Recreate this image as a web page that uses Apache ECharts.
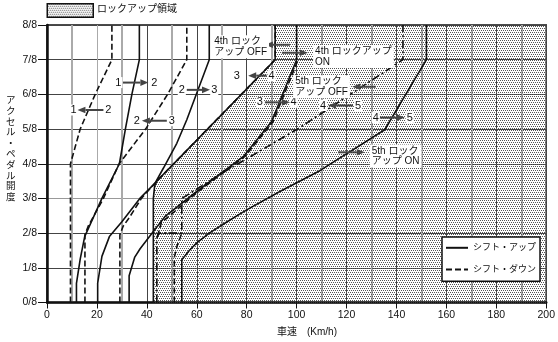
<!DOCTYPE html>
<html><head><meta charset="utf-8">
<script src="https://cdn.jsdelivr.net/npm/echarts@6/dist/echarts.min.js"></script>
<style>html,body{margin:0;padding:0;background:#fff}#c{width:558px;height:342px}</style>
</head><body><div id="c"></div>
<script>
// ---- data: points are [vehicle speed km/h, accelerator opening in eighths] ----
const yTickLabels = ['0/8','1/8','2/8','3/8','4/8','5/8','6/8','7/8','8/8'];
const xMin = 0, xMax = 200, xStep = 20;
const yMin = 0, yMax = 8;

const down21 = [[9.4,0],[9.4,4],[13.3,5],[19.3,6],[26,7],[26,8]];
const up12   = [[11.8,0],[11.8,0.55],[13.3,1.25],[15.1,1.9],[22,3],[29,4],[31.4,5],[34,6],[37,7],[37,8]];
const down32 = [[15.2,0],[15.2,1.95],[16.5,2.2],[22.6,3],[28.9,4],[39.5,5],[48.3,6],[56,7],[56,8]];
const up23   = [[20.3,0],[20.3,0.56],[22,1.33],[25,1.9],[30,2.33],[37.2,3],[43.3,3.44],[46.6,3.87],[52,4.59],[56,5.27],[65,7],[65,8]];
const down43 = [[29.2,0],[29.2,1.95],[30.5,2.2],[33,2.45],[37.8,3],[44,3.5],[91.4,7],[91.4,8]];
const up34   = [[32.9,0],[32.9,0.77],[35.1,1.3],[37.3,1.55],[42.6,2.05],[47.3,2.48],[60,3.2],[70.7,3.78],[78.7,4.21],[90,5.22],[92.7,5.7],[100,7],[100,8]];
const lockOff4 = [[42.6,0],[42.6,3.0],[43.1,3.35],[44,3.5],[91.4,7],[91.4,8]];
const lockOn4  = [[44.2,1.9],[45.8,2.3],[60.6,3.2],[79.3,4.21],[90.6,5.22],[93.3,5.7],[100.6,7]];
const lockOff5 = [[44,0],[44,1.85],[44.8,2],[54,2],[54,3],[69,3.68],[101,5.03],[142.6,7],[142.6,8]];
const down54   = [[51,0],[51,1.3],[52.2,1.65],[54,2]];
const lockOn5  = [[54,0],[54,1.23],[57,1.5],[60,1.72],[65,2],[72,2.32],[80,2.67],[93.3,3.2],[109.3,3.8],[135.3,4.98],[152,7],[152,8]];

// annotation texts and arrows (placed in chart coordinates)
const numLabels = [
  ['1',28.6,6.34],['2',43.0,6.34],
  ['1',10.6,5.55],['2',24.6,5.55],
  ['2',54,6.13],['3',67,6.13],
  ['2',36,5.24],['3',50,5.24],
  ['3',76,6.54],['4',90,6.54],
  ['3',85.3,5.77],['4',98.8,5.77],
  ['4',110.6,5.68],['5',124.6,5.68],
  ['4',131.7,5.33],['5',145.3,5.33]
];
const blockLabels = [
  ['4th ロック\nアップ OFF',66.2,7.37],
  ['4th ロックアップ\nON',106.6,7.09],
  ['5th ロック\nアップ OFF',98.6,6.22],
  ['5th ロック\nアップ ON',129.3,4.22]
];
const arrows = [
  [30.4,6.34,40.6,6.34],[22.6,5.55,12.2,5.55],
  [56,6.13,65.3,6.13],[48,5.24,38,5.24],
  [88,6.54,80.6,6.54],[87.3,5.77,97.3,5.77],
  [97.3,7.43,87.3,7.43],[94.1,7.2,104.5,7.2],
  [131.7,6.22,122.3,6.22],[122.6,5.68,112.6,5.68],
  [133.3,5.33,143.3,5.33],[116.6,4.33,127.3,4.33]
];

// ---- rendering ----
function dotCanvas(withBg){
  const c=document.createElement('canvas'); c.width=4; c.height=4;
  const g=c.getContext('2d');
  if(withBg){ g.fillStyle='#fff'; g.fillRect(0,0,4,4); }
  g.fillStyle='#555';
  [[0,0],[2,0],[1,2],[3,2]].forEach(p=>g.fillRect(p[0],p[1],1,1));
  return c;
}
const patt = {image: dotCanvas(false), repeat:'repeat'};
const pattBg = {image: dotCanvas(true), repeat:'repeat'};
const FONT = '"Liberation Sans","Noto Sans CJK JP",sans-serif';
const solid = 'solid', dashed=[6,3], dashDot=[8,3,2,3];

function lineSeries(name, data, type){
  return {type:'line', name, data, showSymbol:false, symbol:'none', silent:true, z:3, color:'#111',
    itemStyle:{color:'#111'},
    lineStyle:{color:'#111', width:1.6, type}, animation:false};
}
const xSplitColors = [];
for(let v=xMin; v<=xMax; v+=xStep) xSplitColors.push(v===20 ? '#aaa' : '#444');
const ySplitColors = yTickLabels.map((t,i)=> i===3 ? '#999' : '#444');

const chart = echarts.init(document.getElementById('c'), null, {renderer:'canvas'});
chart.setOption({
  animation:false,
  grid:{left:47, right:11.5, top:25, bottom:39.5, show:true, borderColor:'#111', borderWidth:1.5, backgroundColor:'transparent'},
  xAxis:{type:'value', min:xMin, max:xMax, interval:xStep,
    axisLine:{lineStyle:{color:'#111', width:2.5}},
    axisTick:{show:true, length:6, lineStyle:{color:'#111', width:1}},
    minorTick:{show:false, splitNumber:2},
    axisLabel:{color:'#111', fontSize:10.5, fontFamily:FONT, margin:7},
    splitLine:{show:true, lineStyle:{color:xSplitColors, width:1}},
    minorSplitLine:{show:true, lineStyle:{color:'#aaa', width:2}}
  },
  yAxis:{type:'value', min:yMin, max:yMax, interval:1,
    axisLine:{show:true, lineStyle:{color:'#111', width:2.5}},
    axisTick:{show:true, length:9, lineStyle:{color:'#111', width:1}},
    axisLabel:{color:'#111', fontSize:10.5, fontFamily:FONT, margin:10, formatter:v=>yTickLabels[v]},
    splitLine:{show:true, lineStyle:{color:ySplitColors, width:1.2}}
  },
  legend:{data:['シフト・アップ','シフト・ダウン'], orient:'vertical', left:442, top:237,
    backgroundColor:'#fff', borderColor:'#111', borderWidth:1.5, padding:[6,4,7,3],
    itemWidth:22, itemHeight:12, itemGap:12, selectedMode:false,
    itemStyle:{color:'rgba(0,0,0,0)', borderWidth:0, opacity:0},
    textStyle:{fontSize:9, color:'#111', fontFamily:FONT}},
  graphic:[
    {type:'rect', left:46.5, top:3, shape:{width:46, height:13.5}, style:{fill:pattBg, stroke:'#111', lineWidth:1.5}},
    {type:'text', left:97, top:4, style:{text:'ロックアップ領域', font:'10px '+FONT, fill:'#111'}},
    {type:'text', left:6, top:95, style:{text:'アクセル・ペダル開度'.split('').join('\n'), font:'9.5px '+FONT, fill:'#111', lineHeight:10.8, align:'center'}},
    {type:'text', left:277, top:327, style:{text:'車速\u3000(Km/h)', font:'10px '+FONT, fill:'#111'}}
  ],
  series:[
    {type:'custom', name:'lockupArea', silent:true, z:1, data:[[0,0]],
      renderItem:(params, api)=>{
        const pts = lockOff4.concat([[xMax,yMax],[xMax,yMin]]).map(p=>api.coord(p));
        return {type:'polygon', shape:{points:pts}, style:{fill:patt, stroke:null}};
      }},
    lineSeries('シフト・アップ', up12, solid),
    lineSeries('シフト・アップ', up23, solid),
    lineSeries('シフト・アップ', up34, solid),
    lineSeries('シフト・ダウン', down21, dashed),
    lineSeries('シフト・ダウン', down32, dashed),
    lineSeries('シフト・ダウン', down43, dashed),
    lineSeries('シフト・ダウン', down54, dashed),
    lineSeries('lockOff4', lockOff4, solid),
    lineSeries('lockOn4', lockOn4, dashed),
    lineSeries('lockOff5', lockOff5, dashDot),
    lineSeries('lockOn5', lockOn5, solid),
    {type:'custom', name:'arrows', silent:true, z:5, data:arrows,
      dimensions:['x1','y1','x2','y2'], encode:{x:[0,2], y:[1,3]},
      renderItem:(params, api)=>{
        const a = api.coord([api.value(0), api.value(1)]);
        const b = api.coord([api.value(2), api.value(3)]);
        const ang = Math.atan2(b[1]-a[1], b[0]-a[0]);
        const L=8, W=3.3;
        const base=[b[0]-L*Math.cos(ang), b[1]-L*Math.sin(ang)];
        const p1=[base[0]+W*Math.sin(ang), base[1]-W*Math.cos(ang)];
        const p2=[base[0]-W*Math.sin(ang), base[1]+W*Math.cos(ang)];
        return {type:'group', children:[
          {type:'line', shape:{x1:a[0],y1:a[1],x2:base[0],y2:base[1]}, style:{stroke:'#444', lineWidth:2}},
          {type:'polygon', shape:{points:[b,p1,p2]}, style:{fill:'#444'}}
        ]};
      }},
    {type:'custom', name:'numLabels', silent:true, z:6, data:numLabels.map(d=>[d[1],d[2]]),
      renderItem:(params, api)=>{
        const p = api.coord([api.value(0), api.value(1)]);
        return {type:'text', x:p[0], y:p[1], style:{text:numLabels[params.dataIndex][0], font:'11px '+FONT, fill:'#111',
          align:'center', verticalAlign:'middle', backgroundColor:'#fff', padding:[0,1]}};
      }},
    {type:'custom', name:'blockLabels', silent:true, z:6, data:blockLabels.map(d=>[d[1],d[2]]),
      renderItem:(params, api)=>{
        const p = api.coord([api.value(0), api.value(1)]);
        return {type:'text', x:p[0], y:p[1], style:{text:blockLabels[params.dataIndex][0], font:'10px '+FONT, fill:'#111',
          align:'left', verticalAlign:'middle', lineHeight:10.5, backgroundColor:'#fff', padding:[1,2]}};
      }}
  ]
});
</script></body></html>
